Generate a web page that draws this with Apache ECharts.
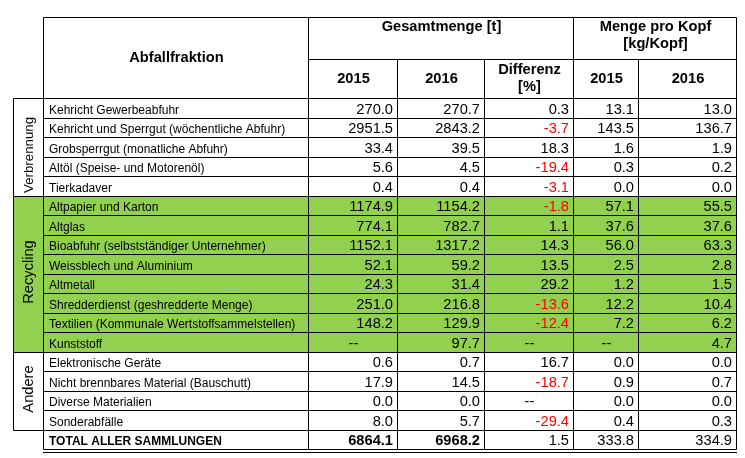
<!DOCTYPE html>
<html><head><meta charset="utf-8">
<script src="https://cdn.jsdelivr.net/npm/echarts@6/dist/echarts.min.js"></script>
<style>html,body{margin:0;padding:0;background:#fff}#c{width:745px;height:458px}</style>
</head><body><div id="c"></div>
<script>
// ---------- data ----------
const groupNames = ['Verbrennung', 'Recycling', 'Andere'];
const groupSizes = [5, 8, 4];
const categories = [
  'Kehricht Gewerbeabfuhr',
  'Kehricht und Sperrgut (wöchentliche Abfuhr)',
  'Grobsperrgut (monatliche Abfuhr)',
  'Altöl (Speise- und Motorenöl)',
  'Tierkadaver',
  'Altpapier und Karton',
  'Altglas',
  'Bioabfuhr (selbstständiger Unternehmer)',
  'Weissblech und Aluminium',
  'Altmetall',
  'Shredderdienst (geshredderte Menge)',
  'Textilien (Kommunale Wertstoffsammelstellen)',
  'Kunststoff',
  'Elektronische Geräte',
  'Nicht brennbares Material (Bauschutt)',
  'Diverse Materialien',
  'Sonderabfälle'
];
const total2015 = [270.0, 2951.5, 33.4, 5.6, 0.4, 1174.9, 774.1, 1152.1, 52.1, 24.3, 251.0, 148.2, null, 0.6, 17.9, 0.0, 8.0];
const total2016 = [270.7, 2843.2, 39.5, 4.5, 0.4, 1154.2, 782.7, 1317.2, 59.2, 31.4, 216.8, 129.9, 97.7, 0.7, 14.5, 0.0, 5.7];
const diffPct   = [0.3, -3.7, 18.3, -19.4, -3.1, -1.8, 1.1, 14.3, 13.5, 29.2, -13.6, -12.4, null, 16.7, -18.7, null, -29.4];
const perHead2015 = [13.1, 143.5, 1.6, 0.3, 0.0, 57.1, 37.6, 56.0, 2.5, 1.2, 12.2, 7.2, null, 0.0, 0.9, 0.0, 0.4];
const perHead2016 = [13.0, 136.7, 1.9, 0.2, 0.0, 55.5, 37.6, 63.3, 2.8, 1.5, 10.4, 6.2, 4.7, 0.0, 0.7, 0.0, 0.3];
const totalLabel = 'TOTAL ALLER SAMMLUNGEN';
const totalRow = [6864.1, 6968.2, 1.5, 333.8, 334.9];
const headerTitle = 'Abfallfraktion';
const headerGroups = ['Gesamtmenge [t]', 'Menge pro Kopf\n[kg/Kopf]'];
const subHeaders = ['2015', '2016', 'Differenz\n[%]', '2015', '2016'];

// ---------- layout / style ----------
const HEAD = 4.17, SPLIT = 2.15;
const colEdges = [0, 30, 295, 384, 471, 560, 625, 723];
const FF = '"Liberation Sans", Arial, sans-serif';
const GREEN = '#92D050';
const F_LABEL = '12px ' + FF;
const F_NUM = '14.67px ' + FF;
const F_HEAD = 'bold 14.67px ' + FF;

const cells = [];
function addCell(box, o) { cells.push(Object.assign({ box }, o)); }

addCell([colEdges[1], 0, colEdges[2], HEAD], { text: headerTitle, font: F_HEAD, align: 'center', valign: 'middle' });
addCell([colEdges[2], 0, colEdges[5], SPLIT], { text: headerGroups[0], font: F_HEAD, align: 'center', valign: 'top' });
addCell([colEdges[5], 0, colEdges[7], SPLIT], { text: headerGroups[1], font: F_HEAD, align: 'center', valign: 'top' });
subHeaders.forEach((t, k) => addCell([colEdges[2 + k], SPLIT, colEdges[3 + k], HEAD], { text: t, font: F_HEAD, align: 'center', valign: 'middle' }));

// groups
const rowGroup = [];
let start = 0;
groupNames.forEach((g, gi) => {
  for (let i = 0; i < groupSizes[gi]; i++) rowGroup.push(gi);
  addCell([colEdges[0], HEAD + start, colEdges[1], HEAD + start + groupSizes[gi]], {
    text: g, rotate: true, gi, fill: gi === 1 ? GREEN : null,
    font: (gi === 0 ? '13.3px ' : '14.67px ') + FF
  });
  start += groupSizes[gi];
});

const valueCols = [total2015, total2016, diffPct, perHead2015, perHead2016];
categories.forEach((cat, r) => {
  const fill = rowGroup[r] === 1 ? GREEN : null;
  const y0 = HEAD + r, y1 = HEAD + r + 1;
  addCell([colEdges[1], y0, colEdges[2], y1], { text: cat, font: F_LABEL, align: 'left', valign: 'row', fill });
  valueCols.forEach((arr, k) => {
    const v = arr[r];
    addCell([colEdges[2 + k], y0, colEdges[3 + k], y1], {
      text: v == null ? '--' : v.toFixed(1), font: F_NUM,
      align: v == null ? 'center' : 'right', valign: 'row', fill,
      color: (k === 2 && v != null && v < 0) ? '#FF0000' : '#000'
    });
  });
});
// total row
const tr = categories.length;
addCell([colEdges[1], HEAD + tr, colEdges[2], HEAD + tr + 1], { text: totalLabel, font: 'bold 12px ' + FF, align: 'left', valign: 'row' });
totalRow.forEach((v, k) => addCell([colEdges[2 + k], HEAD + tr, colEdges[3 + k], HEAD + tr + 1], {
  text: v.toFixed(1), font: k < 2 ? F_HEAD : F_NUM, align: 'right', valign: 'row'
}));
addCell([colEdges[1], HEAD + tr + 1.17, colEdges[7], HEAD + tr + 1.17], { kind: 'hline' });

function renderItem(params, api) {
  const c = cells[params.dataIndex];
  const a = api.coord([api.value(0), api.value(1)]);
  const b = api.coord([api.value(2), api.value(3)]);
  const x0 = Math.round(a[0]), y0 = Math.round(a[1]), x1 = Math.round(b[0]), y1 = Math.round(b[1]);
  if (c.kind === 'hline') {
    return { type: 'line', z2: 5, shape: { x1: x0, y1: y0 + 0.5, x2: x1 + 1, y2: y0 + 0.5 }, style: { stroke: '#000', lineWidth: 1 } };
  }
  const ch = [];
  if (c.fill) ch.push({ type: 'rect', z2: 0, shape: { x: x0, y: y0, width: x1 - x0, height: y1 - y0 }, style: { fill: c.fill } });
  ch.push({ type: 'rect', z2: 5, shape: { x: x0 + 0.5, y: y0 + 0.5, width: x1 - x0, height: y1 - y0 }, style: { fill: 'none', stroke: '#000', lineWidth: 1 } });
  if (c.rotate) {
    const cx = (x0 + x1) / 2 + 1;
    if (c.gi === 0) {
      ch.push({ type: 'text', z2: 10, x: cx, y: y1 - 3, rotation: Math.PI / 2, style: { text: c.text, font: c.font, fill: '#000', align: 'left', verticalAlign: 'middle' } });
    } else {
      ch.push({ type: 'text', z2: 10, x: cx, y: (y0 + y1) / 2 - 2, rotation: Math.PI / 2, style: { text: c.text, font: c.font, fill: '#000', align: 'center', verticalAlign: 'middle' } });
    }
  } else if (c.text) {
    let tx, ty, va = 'middle', lh;
    if (c.align === 'left') tx = x0 + 6;
    else if (c.align === 'right') tx = x1 - 4;
    else tx = (x0 + x1) / 2 + 1;
    if (c.valign === 'row') { ty = y1 - 1; va = 'bottom'; }
    else if (c.valign === 'top') { ty = y0 + 1; va = 'top'; lh = 17.5; }
    else { ty = (y0 + y1) / 2; lh = 17.6; }
    const st = { text: c.text, font: c.font, fill: c.color || '#000', align: c.align, verticalAlign: va };
    if (lh) st.lineHeight = lh;
    ch.push({ type: 'text', z2: 10, x: tx, y: ty, style: st });
  }
  return { type: 'group', children: ch };
}

const chart = echarts.init(document.getElementById('c'), null, { renderer: 'canvas' });
chart.setOption({
  animation: false,
  backgroundColor: '#fff',
  grid: { left: 13, top: 17, width: 723, height: 432 },
  xAxis: { type: 'value', min: 0, max: colEdges[colEdges.length - 1], show: false },
  yAxis: { type: 'value', min: 0, max: HEAD + categories.length + 1, inverse: true, show: false },
  series: [{
    type: 'custom', coordinateSystem: 'cartesian2d', clip: false, silent: true,
    encode: { x: [0, 2], y: [1, 3] },
    data: cells.map(c => c.box),
    renderItem
  }]
});
</script>
</body></html>
